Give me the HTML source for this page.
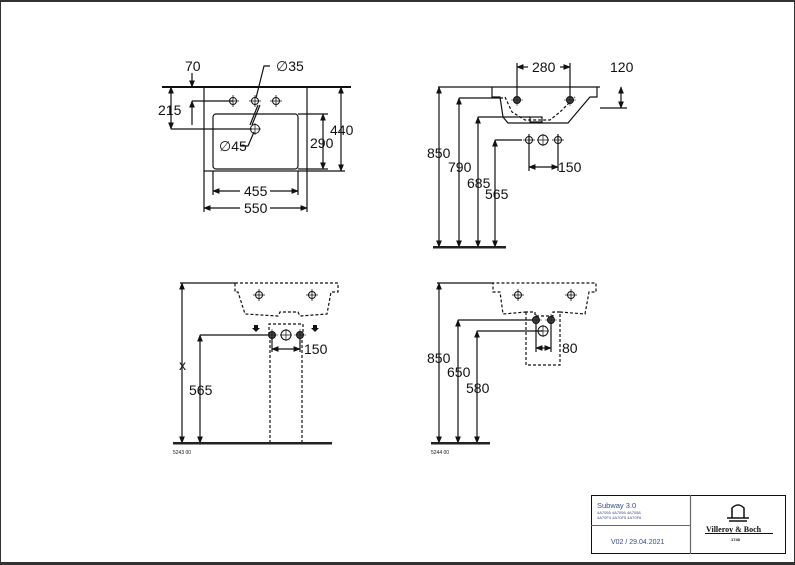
<!DOCTYPE html>
<html><head><meta charset="utf-8"><style>
html,body{margin:0;padding:0;background:#fff}
svg{display:block}
text{font-family:"Liberation Sans",sans-serif;fill:#111}
</style></head><body>
<svg width="795" height="565" viewBox="0 0 795 565" xmlns="http://www.w3.org/2000/svg">
<defs>
<marker id="a" viewBox="0 0 10 10" refX="9" refY="5" markerWidth="6" markerHeight="6" orient="auto-start-reverse"><path d="M0,1 L10,5 L0,9z" fill="#111"/></marker>
<g id="tap"><circle r="3.5" fill="none" stroke="#111" stroke-width="1"/><path d="M-6,0H6M0,-6V6" stroke="#111" stroke-width="0.8"/></g>
<g id="dot"><circle r="3.5" fill="#444" stroke="#111"/><path d="M-6,0H6M0,-6V6" stroke="#111" stroke-width="0.6"/></g>
</defs>
<rect x="0" y="0" width="795" height="565" fill="#fff"/>
<rect x="0" y="0" width="795" height="2" fill="#333"/>
<rect x="0" y="562" width="795" height="3" fill="#333"/>
<rect x="0.5" y="1" width="794" height="562" fill="none" stroke="#333" stroke-width="1"/>

<g stroke="#111" fill="none" stroke-width="1.2">
<line x1="162" y1="87" x2="351" y2="87" stroke-width="2"/>
<rect x="204" y="87" width="103" height="84"/>
<rect x="213" y="114" width="85" height="55" rx="3"/>
<line x1="307" y1="171" x2="345" y2="171"/>
<line x1="298" y1="114" x2="328" y2="114"/>
<line x1="298" y1="169" x2="328" y2="169"/>
<line x1="341" y1="87" x2="341" y2="171" marker-start="url(#a)" marker-end="url(#a)"/>
<line x1="323" y1="114" x2="323" y2="169" marker-start="url(#a)" marker-end="url(#a)"/>
<line x1="171" y1="87" x2="171" y2="129" marker-start="url(#a)" marker-end="url(#a)"/>
<line x1="171" y1="129" x2="252" y2="129"/>
<line x1="192" y1="101" x2="233" y2="101"/>
<line x1="192" y1="73" x2="192" y2="87" marker-end="url(#a)"/>
<line x1="192" y1="125" x2="192" y2="101" marker-end="url(#a)"/>
<line x1="213" y1="171" x2="213" y2="195"/><line x1="298" y1="171" x2="298" y2="195"/>
<line x1="204" y1="171" x2="204" y2="212"/><line x1="307" y1="171" x2="307" y2="212"/>
<line x1="213" y1="191" x2="240" y2="191" marker-start="url(#a)"/>
<line x1="270" y1="191" x2="298" y2="191" marker-end="url(#a)"/>
<line x1="204" y1="208" x2="240" y2="208" marker-start="url(#a)"/>
<line x1="270" y1="208" x2="307" y2="208" marker-end="url(#a)"/>
<polyline points="270,66 264,66 256,98"/>
<polyline points="240,146 248,146 254,132"/>
<line x1="250" y1="125" x2="258" y2="105"/>
<line x1="260" y1="105" x2="252" y2="125"/>
</g>
<use href="#tap" x="233" y="101"/><use href="#tap" x="255" y="101"/><use href="#tap" x="276" y="101"/>
<circle cx="255" cy="129" r="4.5" fill="none" stroke="#111"/>
<path d="M249,129H261M255,123V135" stroke="#111" stroke-width="0.7"/>
<g font-size="14">
<text x="185" y="71">70</text>
<text x="276" y="71">∅35</text>
<text x="158" y="115">215</text>
<text x="330" y="135">440</text>
<text x="310" y="148">290</text>
<text x="219" y="151">∅45</text>
<text x="244" y="196">455</text>
<text x="244" y="213">550</text>
</g>

<g stroke="#111" fill="none" stroke-width="1.2">
<line x1="438" y1="87" x2="600" y2="87"/>
<path d="M492,87 L492,97 L500,97 L503,117 L508,123 L568,123 L573,117 L590,97 L597,97 L597,87"/>
<path d="M505,97 L512,112 L525,120 L550,120 L560,112 L575,97" stroke-dasharray="3,2"/>
<rect x="530" y="117" width="12" height="5"/>
<line x1="459" y1="98" x2="503" y2="98"/>
<line x1="478" y1="117" x2="530" y2="117"/>
<line x1="495" y1="140" x2="522" y2="140"/>
<line x1="600" y1="108" x2="627" y2="108"/>
<line x1="439" y1="87" x2="439" y2="247" marker-start="url(#a)" marker-end="url(#a)"/>
<line x1="459" y1="98" x2="459" y2="247" marker-start="url(#a)" marker-end="url(#a)"/>
<line x1="478" y1="117" x2="478" y2="247" marker-start="url(#a)" marker-end="url(#a)"/>
<line x1="495" y1="140" x2="495" y2="247" marker-start="url(#a)" marker-end="url(#a)"/>
<line x1="621" y1="87" x2="621" y2="108" marker-start="url(#a)" marker-end="url(#a)"/>
<line x1="517" y1="63" x2="517" y2="100"/><line x1="570" y1="63" x2="570" y2="100"/>
<line x1="517" y1="67" x2="528" y2="67" marker-start="url(#a)"/>
<line x1="560" y1="67" x2="570" y2="67" marker-end="url(#a)"/>
<line x1="529" y1="134" x2="529" y2="171"/><line x1="558" y1="134" x2="558" y2="171"/>
<line x1="529" y1="167" x2="558" y2="167" marker-start="url(#a)" marker-end="url(#a)"/>
</g>
<rect x="433" y="246" width="73" height="2.5" fill="#222"/>
<use href="#dot" x="517" y="100"/><use href="#dot" x="570" y="100"/>
<use href="#tap" x="529" y="140"/><use href="#tap" x="558" y="140"/>
<circle cx="543" cy="140" r="5" fill="none" stroke="#111"/><path d="M537,140H549M543,134V146" stroke="#111" stroke-width="0.7"/>
<g font-size="14">
<text x="532" y="72">280</text>
<text x="610" y="72">120</text>
<text x="427" y="158">850</text>
<text x="448" y="172">790</text>
<text x="467" y="188">685</text>
<text x="485" y="199">565</text>
<text x="558" y="172">150</text>
</g>

<g stroke="#111" fill="none" stroke-width="1.2">
<line x1="180" y1="283" x2="235" y2="283"/>
<path d="M235,283 L338,283 L338,292 L331,292 L327,314 L300,316 L298,312 L280,312 L278,316 L245,314 L238,292 L235,292 Z" stroke-dasharray="3,2"/>
<path d="M269,335 L269,324 L303,324 L303,335" stroke-dasharray="3,2"/>
<path d="M270,340 L270,443 M302,340 L302,443" stroke-dasharray="3,2"/>
<line x1="200" y1="335" x2="268" y2="335"/>
<line x1="182" y1="283" x2="182" y2="443" marker-start="url(#a)" marker-end="url(#a)"/>
<line x1="200" y1="335" x2="200" y2="443" marker-start="url(#a)" marker-end="url(#a)"/>
<line x1="272" y1="338" x2="272" y2="352"/><line x1="300" y1="338" x2="300" y2="352"/>
<line x1="272" y1="349" x2="300" y2="349" marker-start="url(#a)" marker-end="url(#a)"/>
</g>
<rect x="173" y="442" width="159" height="2.5" fill="#222"/>
<use href="#tap" x="259" y="295"/><use href="#tap" x="312" y="295"/>
<use href="#dot" x="272" y="335"/><use href="#dot" x="300" y="335"/>
<circle cx="286" cy="335" r="5" fill="none" stroke="#111"/><path d="M280,335H292M286,329V341" stroke="#111" stroke-width="0.7"/>
<path d="M254,325h4v3h2l-4,4l-4,-4h2z M313,325h4v3h2l-4,4l-4,-4h2z" fill="#111"/>
<g font-size="14">
<text x="179" y="370">x</text>
<text x="189" y="395">565</text>
<text x="304" y="354">150</text>
</g>
<text x="173" y="454" font-size="5">5243 00</text>

<g stroke="#111" fill="none" stroke-width="1.2">
<line x1="437" y1="283" x2="493" y2="283"/>
<path d="M560,312 L585,314 L589,292 L596,292 L596,283 L493,283 L493,292 L500,292 L503,314 L526,312" stroke-dasharray="3,2"/>
<path d="M526,312 L526,365 L560,365 L560,312 L553,312 L553,316 L535,316 L535,312 Z" stroke-dasharray="3,2"/>
<line x1="458" y1="320" x2="536" y2="320"/>
<line x1="477" y1="331" x2="543" y2="331"/>
<line x1="439" y1="283" x2="439" y2="443" marker-start="url(#a)" marker-end="url(#a)"/>
<line x1="458" y1="320" x2="458" y2="443" marker-start="url(#a)" marker-end="url(#a)"/>
<line x1="477" y1="331" x2="477" y2="443" marker-start="url(#a)" marker-end="url(#a)"/>
<line x1="536" y1="320" x2="536" y2="352"/><line x1="551" y1="320" x2="551" y2="352"/>
<line x1="536" y1="348" x2="551" y2="348" marker-start="url(#a)" marker-end="url(#a)"/>
</g>
<rect x="431" y="442" width="59" height="2.5" fill="#222"/>
<use href="#tap" x="518" y="295"/><use href="#tap" x="571" y="295"/>
<use href="#dot" x="536" y="320"/><use href="#dot" x="551" y="320"/>
<circle cx="543" cy="331" r="5" fill="none" stroke="#111"/><path d="M537,331H549M543,325V337" stroke="#111" stroke-width="0.7"/>
<g font-size="14">
<text x="427" y="363">850</text>
<text x="447" y="377">650</text>
<text x="466" y="393">580</text>
<text x="562" y="353">80</text>
</g>
<text x="431" y="454" font-size="5">5244 00</text>

<rect x="591.5" y="495.5" width="194" height="58" fill="none" stroke="#111"/>
<line x1="690.5" y1="495" x2="690.5" y2="554" stroke="#666" stroke-width="1.2"/>
<line x1="591" y1="525.5" x2="690" y2="525.5" stroke="#666"/>
<text x="597" y="508" font-size="7.5" style="fill:#3a4a8a">Subway 3.0</text>
<text x="597" y="514" font-size="4" style="fill:#3a4a8a">4A7055 4A7056 4A7058</text>
<text x="597" y="519" font-size="4" style="fill:#3a4a8a">4A70F4 4A70F5 4A70F6</text>
<text x="611" y="544" font-size="7" style="fill:#3a4a8a">V02 / 29.04.2021</text>
<g stroke="#111" fill="none" stroke-width="1.5">
<path d="M732,518 L732,508 Q738,502 744,508 L744,518"/>
<line x1="727" y1="518" x2="749" y2="518"/>
<line x1="729" y1="521" x2="747" y2="521"/>
</g>
<text x="706" y="532" font-size="8" font-weight="bold" style="font-family:'Liberation Serif',serif">Villeroy &amp; Boch</text>
<line x1="705" y1="533.5" x2="773" y2="533.5" stroke="#111"/>
<text x="731" y="541" font-size="4" font-weight="bold">1748</text>
</svg>
</body></html>
